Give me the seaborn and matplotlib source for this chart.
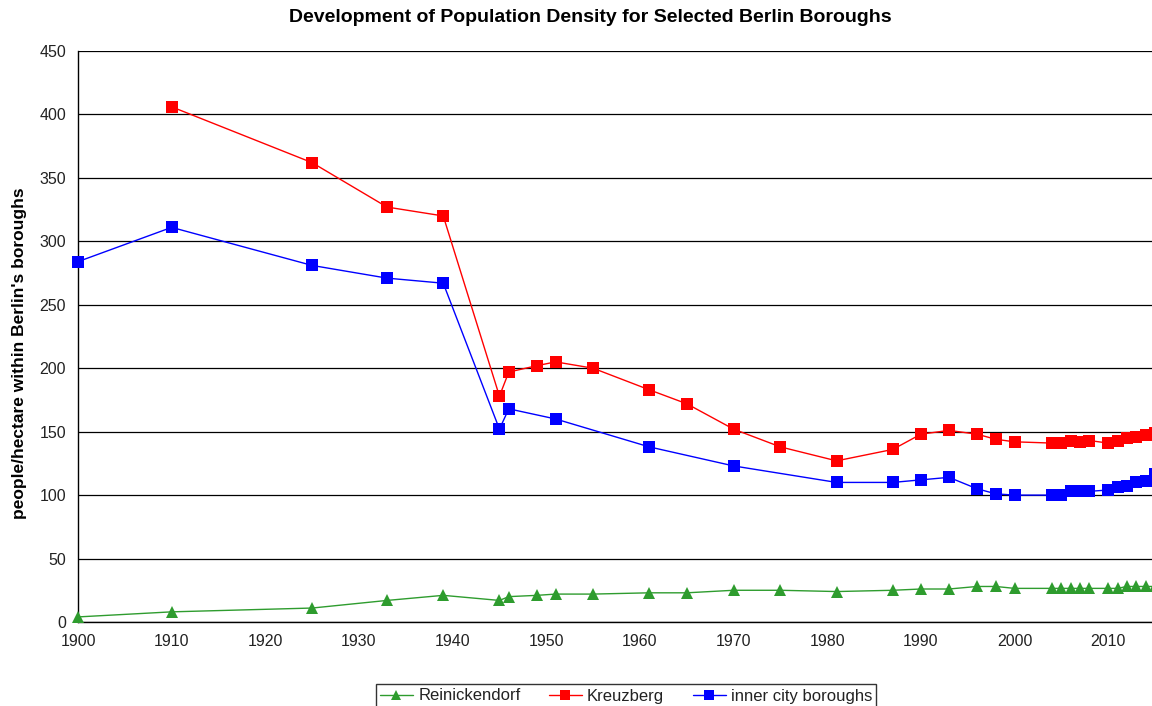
import pandas as pd
import matplotlib
matplotlib.use("Agg")
import matplotlib.pyplot as plt
import seaborn as sns

# Data
rein_years = [1900, 1910, 1925, 1933, 1939, 1945, 1946, 1949, 1951, 1955, 1961, 1965,
              1970, 1975, 1981, 1987, 1990, 1993, 1996, 1998, 2000, 2004, 2005, 2006,
              2007, 2008, 2010, 2011, 2012, 2013, 2014, 2015]
rein_density = [4, 8, 11, 17, 21, 17, 20, 21, 22, 22, 23, 23,
                25, 25, 24, 25, 26, 26, 28, 28, 26.5, 26.5, 26.5, 26.5,
                26.5, 26.5, 26.5, 26.5, 28, 28, 28, 28]

kreuz_years = [1910, 1925, 1933, 1939, 1945, 1946, 1949, 1951, 1955, 1961, 1965, 1970,
               1975, 1981, 1987, 1990, 1993, 1996, 1998, 2000, 2004, 2005, 2006, 2007,
               2008, 2010, 2011, 2012, 2013, 2014, 2015]
kreuz_density = [406, 362, 327, 320, 178, 197, 202, 205, 200, 183, 172, 152,
                 138, 127, 136, 148, 151, 148, 144, 142, 141, 141, 143, 142,
                 143, 141, 143, 145, 146, 147, 149]

inner_years = [1900, 1910, 1925, 1933, 1939, 1945, 1946, 1951, 1961, 1970, 1981, 1987,
               1990, 1993, 1996, 1998, 2000, 2004, 2005, 2006, 2007, 2008, 2010, 2011,
               2012, 2013, 2014, 2015]
inner_density = [284, 311, 281, 271, 267, 152, 168, 160, 138, 123, 110, 110,
                 112, 114, 105, 101, 100, 100, 100, 103, 103, 103, 104, 106,
                 107, 110, 111, 117]

sns.set_style("white")
plt.rcParams['font.family'] = ['Liberation Sans', 'DejaVu Sans']

fig = plt.figure(figsize=(11.52, 7.06), dpi=100)
ax = fig.add_axes([78 / 1152, 1 - 622 / 706, 1077 / 1152, (622 - 51) / 706])

series = [
    ("Reinickendorf", rein_years, rein_density, "#2e9c2e", "^", 9),
    ("Kreuzberg", kreuz_years, kreuz_density, "#ff0000", "s", 8.5),
    ("inner city boroughs", inner_years, inner_density, "#0000ff", "s", 8.5),
]
for name, yrs, vals, col, mk, ms in series:
    df = pd.DataFrame({"year": yrs, "density": vals})
    sns.lineplot(data=df, x="year", y="density", ax=ax, color=col, marker=mk,
                 markersize=ms, markeredgewidth=0, linewidth=1.0, label=name,
                 clip_on=False, zorder=3)

ax.set_xlim(1900, 2015)
ax.set_ylim(0, 450)
ax.set_xticks(range(1900, 2011, 10))
ax.set_yticks(range(0, 451, 50))
ax.yaxis.grid(True, color="black", linewidth=0.9)
ax.xaxis.grid(False)
ax.set_axisbelow(True)
for s in ["top", "right"]:
    ax.spines[s].set_visible(False)
for s in ["left", "bottom"]:
    ax.spines[s].set_color("black")
    ax.spines[s].set_linewidth(1.0)
ax.tick_params(axis="both", direction="out", length=5, width=1, color="black",
               labelsize=11.5, labelcolor="#222222")
ax.set_xlabel("")
ax.set_ylabel("people/hectare within Berlin's boroughs", fontsize=12.5,
              fontweight="bold", color="black")
ax.yaxis.set_label_coords(-0.047, 0.47)
fig.text(590 / 1152, 1 - 18 / 706, "Development of Population Density for Selected Berlin Boroughs",
         ha="center", va="center", fontsize=14, fontweight="bold", color="black")

ax.legend_.remove()
handles, labels = ax.get_legend_handles_labels()
leg = fig.legend(handles, labels, loc="upper center", ncol=3,
                 bbox_to_anchor=(626 / 1152, 1 - 676 / 706), frameon=True,
                 fancybox=False, edgecolor="black", fontsize=12,
                 handlelength=2.0, handletextpad=0.3, columnspacing=1.7,
                 borderpad=0.25)
leg.get_frame().set_linewidth(1.0)
for t in leg.get_texts():
    t.set_color("#222222")
for h in leg.legend_handles:
    h.set_markersize(7)

fig.savefig("out.png", dpi=100)
